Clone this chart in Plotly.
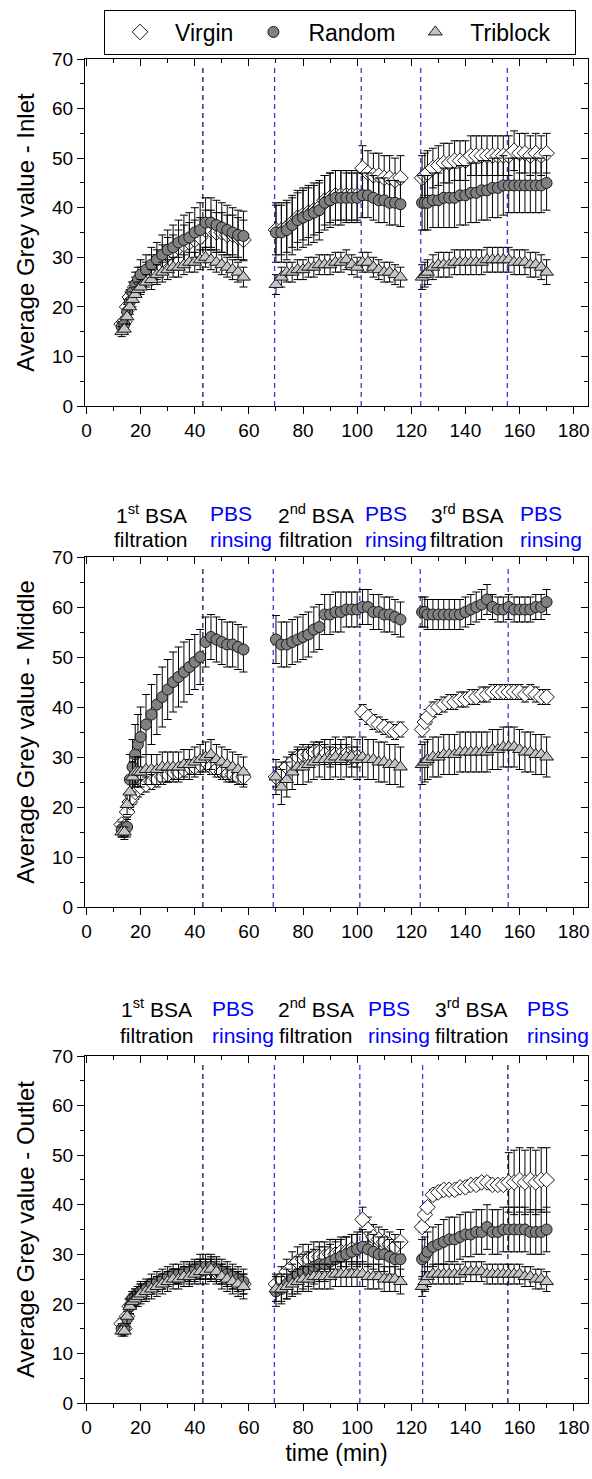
import plotly.graph_objects as go

# ---------------- data ----------------
time_seg1 = [13, 14, 15, 16, 17, 18, 19, 20, 22, 24, 26, 28, 30, 32, 34, 36, 38, 40, 42, 44, 46, 48, 50, 52, 54, 56, 58]
time_seg2 = [70, 72, 74, 76, 78, 80, 82, 84, 86, 88, 90, 92, 94, 96, 98, 100, 102, 104, 106, 108, 110, 112, 114, 116]
time_seg3 = [124, 125, 126, 128, 130, 132, 134, 136, 138, 140, 142, 144, 146, 148, 150, 152, 154, 156, 158, 160, 162, 164, 166, 168, 170]
time_min = time_seg1 + time_seg2 + time_seg3

series_names = ["Virgin", "Random", "Triblock"]

# Inlet
inlet_virgin = [16.5, 17, 20, 22, 23, 24, 25, 25.5, 26.5, 27.5, 28.5, 29.5, 30.5, 31, 32, 32.5, 33, 33.5, 34, 35.5, 35.5, 35, 35, 34.5, 34.5, 34, 33.5,
                35.5, 35.5, 36, 37, 38, 38.5, 39, 39.5, 40, 41.5, 42, 42.5, 42.5, 42.5, 42.5, 42.5, 48, 47, 46.5, 46.5, 46, 46, 45.5, 46,
                46, 46.5, 47, 48, 48.5, 49, 49, 49.5, 49.5, 49.5, 50.5, 50.5, 50.5, 50.5, 50.5, 50.5, 50.5, 50.5, 51.5, 51, 51, 50.5, 51, 50.5, 51]
inlet_virgin_err = [1, 1, 1.5, 1.5, 2, 2, 2, 2.5, 2.5, 3, 3, 3, 3.5, 3.5, 3.5, 4, 4, 4, 4, 4, 4, 4, 4, 4, 4, 4, 4,
                    5, 5, 5, 5, 5, 5, 5, 5, 5, 5, 5, 5, 5, 5, 5, 5, 4.5, 4.5, 4.5, 4.5, 4.5, 4.5, 4.5, 4.5,
                    4.5, 4.5, 4.5, 4, 4, 4, 4, 4, 4, 4, 4, 4, 4, 4, 4, 4, 4, 4, 4, 4, 4, 4, 4, 4, 4]
inlet_random = [16, 16.5, 19, 21, 23, 24.5, 25.5, 26.5, 27.5, 28.5, 29.5, 30.5, 31.5, 32, 33, 33.5, 34, 35, 35.5, 37, 37, 36.5, 36, 35.5, 35, 34.5, 34.3,
                35, 35, 35.5, 36.5, 37.5, 38, 38.5, 39, 39.5, 41, 41.5, 42, 42, 42, 42, 42, 42.5, 42.5, 42, 41.5, 41.5, 41, 41, 40.7,
                41, 41, 41, 41.5, 41.5, 42, 42, 42, 42.5, 42.5, 43, 43, 43.5, 43.5, 44, 44, 44.5, 44.5, 44.5, 44.5, 44.5, 44.5, 44.5, 44.5, 45]
inlet_random_err = [1, 1, 1.5, 2, 2, 2.5, 2.5, 3, 3, 3.5, 3.5, 4, 4, 4.5, 4.5, 5, 5, 5, 5.5, 5, 5, 5, 5, 5, 5, 5, 5,
                    6, 6, 6, 6, 6, 6, 6, 6, 6, 5.5, 5.5, 5.5, 5.5, 5, 5, 5, 4.5, 4.5, 4.5, 4.5, 4.5, 4.5, 4.5, 4.5,
                    5.5, 5.5, 5.5, 5.5, 5.5, 6, 6, 6, 6, 6, 6, 6, 6, 6, 6, 6, 6, 5.5, 5.5, 5.5, 5.5, 5.5, 5.5, 5.5, 5.5]
inlet_triblock = [15, 15.5, 18, 20, 21.5, 22.5, 23.5, 24, 25, 25.5, 26.5, 27, 27.5, 28, 28, 28.5, 29, 29, 29.5, 30, 29.5, 29, 28.5, 28, 27.5, 27, 26,
                  24.5, 26, 27, 27, 27.5, 27.5, 28, 28, 28.5, 28.5, 28.5, 29, 29, 29.5, 28.5, 28, 29, 29, 28, 27.5, 27, 27, 26.5, 26,
                  26, 26.5, 27, 28, 28.5, 28.5, 28.5, 29, 29, 29, 29, 29, 29, 29.5, 29.5, 29.5, 29.5, 29.5, 29, 29, 29, 28.5, 28.5, 28, 27]
inlet_triblock_err = [1, 1, 1.5, 1.5, 1.5, 1.5, 1.5, 1.5, 1.5, 2, 2, 2, 2, 2, 2, 2, 2, 2, 2, 2, 2, 2, 2, 2, 2, 2, 2,
                      2, 2, 2, 2, 2, 2, 2, 2, 2, 2, 2, 2, 2, 2, 2, 2, 2, 2, 2, 2, 2, 2, 2, 2,
                      2.5, 2.5, 2.5, 2.5, 2.5, 2.5, 2.5, 2.5, 2.5, 2.5, 2.5, 2.5, 2.5, 2.5, 2.5, 2.5, 2.5, 2.5, 2.5, 2.5, 2.5, 2.5, 2.5, 2.5, 2.5]

# Middle
middle_virgin = [16.5, 16, 19, 21, 22, 23, 23.5, 24, 24.5, 25, 25.5, 26, 26.5, 27, 27, 27.5, 28, 28, 28.5, 29, 28, 27.5, 27, 26.5, 26.5, 26, 26,
                 26, 27, 28, 29, 30, 30.5, 30.5, 31, 31, 30.5, 30, 30.5, 30.5, 30.5, 30, 30, 39, 38, 37, 36.5, 36, 35.5, 35, 35.5,
                 35.5, 37, 38, 39.5, 40, 40.5, 41, 41, 41.5, 41.5, 42, 42, 42.5, 42.5, 43, 43, 43, 43, 43, 43, 42.5, 43, 42.5, 42, 42]
middle_virgin_err = [1, 1, 1.5, 1.5, 1.5, 1.5, 1.5, 1.5, 1.5, 1.5, 1.5, 1.5, 1.5, 1.5, 1.5, 1.5, 1.5, 1.5, 1.5, 1.5, 1.5, 1.5, 1.5, 1.5, 1.5, 1.5, 1.5,
                     2, 2, 2, 2, 2, 2, 2, 2, 2, 2, 2, 2, 2, 2, 2, 2, 1.5, 1.5, 1.5, 1.5, 1.5, 1.5, 1.5, 1.5,
                     1.5, 1.5, 1.5, 1.5, 1.5, 1.5, 1.5, 1.5, 1.5, 1.5, 1.5, 1.5, 1.5, 1.5, 1.5, 1.5, 1.5, 1.5, 1.5, 1.5, 1.5, 1.5, 1.5, 1.5, 1.5]
middle_random = [15.5, 15, 16, 25.5, 28, 30.5, 32.5, 34, 36.5, 38.5, 40.5, 42, 43.5, 45, 46, 47, 48, 49, 50, 53, 54, 53.5, 53, 52.5, 52.5, 52, 51.5,
                 53.5, 52.5, 52.5, 53, 53.5, 54, 54.5, 55.5, 56, 58.5, 58.5, 59, 59, 59.5, 59.5, 59.5, 60, 60, 59, 59, 58.5, 58.5, 58, 57.5,
                 59, 59, 58.5, 58.5, 58.5, 58.5, 58.5, 58.5, 58.5, 59, 59.5, 60, 60.5, 61.5, 60, 59.5, 59.5, 60, 59.5, 59.5, 59.5, 59.5, 60, 60, 61]
middle_random_err = [1.5, 1.5, 2, 5, 5.5, 6, 6, 6, 6, 6, 6, 6, 6, 6, 6, 6, 5.5, 5.5, 5.5, 5, 4.5, 4.5, 4.5, 4.5, 4.5, 4.5, 4.5,
                     4.8, 4.5, 4.5, 4.5, 4.5, 4.5, 4.5, 4.5, 4.5, 4, 4, 4, 4, 3.5, 3.5, 3.5, 3.5, 3.5, 3.5, 3.5, 3.5, 3.5, 3.5, 3.5,
                     3, 3, 3, 3, 3, 3, 3, 3, 3, 3, 3, 3, 3, 3, 2.5, 2.5, 2.5, 2.5, 2.5, 2.5, 2.5, 2.5, 2.5, 2.5, 2.5]
middle_triblock = [15, 15, 20.5, 23, 26, 27, 27, 27, 27.5, 27.5, 27.5, 28, 28, 28, 28, 28.5, 28.5, 29, 29.5, 30, 30.5, 29.5, 29, 28.5, 28, 27.5, 27,
                   26, 24, 25.5, 27, 28, 28, 28.5, 29, 29.5, 29.5, 29.5, 30, 29.5, 30, 30, 29.5, 30, 29.5, 29.5, 29, 29, 28.5, 28.5, 28,
                   28.5, 29, 29.5, 30, 30, 30.5, 30.5, 30.5, 31, 31, 31, 31, 31, 31, 31.5, 31.5, 32, 32, 32, 31.5, 31, 31, 30.5, 30.5, 30]
middle_triblock_err = [1, 1, 2, 2.5, 3, 3, 3, 3, 3, 3, 3, 3, 3, 3, 3, 3, 3, 3, 3, 3, 3, 3, 3, 3, 3, 3, 3,
                       3.5, 3.5, 3.5, 3.5, 3.5, 3.5, 3.5, 3.5, 3.5, 4, 4, 4, 4, 4, 4, 4, 4, 4, 4, 4, 4, 4, 4, 4,
                       4, 4, 4, 4, 4, 4, 4, 4, 4, 4, 4, 4, 4, 4, 4, 4, 4, 4, 4, 4, 4, 4, 4, 4, 4]

# Outlet
outlet_virgin = [16, 15, 17.5, 19.5, 21, 21.5, 22, 22.5, 23, 23.5, 24, 24.5, 25, 25.5, 25.5, 26, 26, 26.5, 27, 27, 27, 26.5, 26, 25.5, 25, 24.5, 24,
                 24, 25, 26.5, 27.5, 28.5, 29, 29, 29.5, 29.5, 29.5, 30, 30, 30.5, 30.5, 31, 31, 37, 35, 33.5, 33, 32.5, 32, 31.5, 32.5,
                 35.5, 38, 39.5, 42, 42.5, 43, 43, 43, 43.5, 43.5, 44, 44, 44.5, 44.5, 44, 44, 44, 44.5, 44.5, 45, 44.5, 45, 44.5, 45, 45]
outlet_virgin_err = [1, 1, 1.5, 1.5, 1.5, 1.5, 1.5, 1.5, 1.5, 1.5, 1.5, 1.5, 1.5, 1.5, 1.5, 1.5, 2, 2, 2, 2, 2, 2, 2, 2, 2, 2, 2,
                     2, 2.5, 2.5, 3, 3, 3, 3, 3, 3, 3, 3, 3, 3, 3, 3, 3, 2.5, 2.5, 2.5, 2.5, 2.5, 2.5, 2.5, 2.5,
                     1, 1, 1, 1, 1, 1, 1, 1, 1, 1, 1, 1, 1, 1, 1, 1, 1, 6, 6.5, 6.5, 6.5, 6.5, 6.5, 6.5, 6.5]
outlet_random = [15, 15, 17, 19.5, 21, 21.5, 22, 22.5, 23, 24, 24.5, 25, 25.5, 26, 26, 26.5, 26.5, 27, 27.5, 27.5, 27.5, 27, 26.5, 26, 25.5, 25, 24.5,
                 22.5, 23, 24, 25, 26, 26.5, 27, 27.5, 28, 28, 28.5, 29, 29.5, 30, 30.5, 31, 31.5, 31, 30.5, 30, 30, 29.5, 29, 29,
                 29, 29.5, 30.5, 31.5, 32, 32.5, 33, 33, 33.5, 34, 34, 34.5, 34.5, 35.5, 34.5, 34.5, 35, 35, 35, 35, 35, 34.5, 34.5, 34.5, 35]
outlet_random_err = [1, 1, 1.5, 1.5, 1.5, 1.5, 1.5, 2, 2, 2, 2, 2, 2, 2, 2, 2, 2, 2, 2.5, 2.5, 2.5, 2.5, 2.5, 2.5, 2.5, 2.5, 2.5,
                     3, 3, 3, 3, 3.5, 3.5, 3.5, 3.5, 3.5, 3.5, 3.5, 3.5, 3.5, 3.5, 3.5, 3.5, 3.5, 3.5, 3.5, 3.5, 3.5, 3.5, 3.5, 3.5,
                     4, 4, 4, 4, 4, 4.5, 4.5, 4.5, 4.5, 4.5, 4.5, 4.5, 4.5, 4.5, 4.5, 4.5, 4.5, 4.5, 4.5, 4.5, 4.5, 4.5, 4.5, 4.5, 4.5]
outlet_triblock = [14.5, 14.5, 17.5, 19.5, 20.5, 21, 21.5, 22, 22.5, 23, 23.5, 24, 24.5, 25, 25, 25.5, 25.5, 26, 26.5, 26.5, 27, 26.5, 25.5, 25, 24.5, 24, 23.5,
                   23, 23, 23.5, 24, 24.5, 25, 25, 25.5, 25.5, 25.5, 25.5, 26, 26, 26, 26, 26, 26, 25.5, 25.5, 25.5, 25, 25, 25, 24.5,
                   23.5, 24.5, 25.5, 26, 26, 26, 26, 26, 26, 26.5, 26.5, 26.5, 26.5, 26, 26, 26, 26, 26, 26, 26, 25.5, 25.5, 25, 25, 24.5]
outlet_triblock_err = [1, 1, 1.5, 1.5, 1.5, 1.5, 2, 2, 2, 2, 2, 2, 2, 2, 2, 2, 2, 2, 2.5, 2.5, 2.5, 2.5, 2.5, 2.5, 2.5, 2.5, 2.5,
                       2.5, 2.5, 2.5, 2.5, 2.5, 2.5, 2.5, 2.5, 2.5, 2.5, 2.5, 2.5, 2.5, 2.5, 2.5, 2.5, 2.5, 2.5, 2.5, 2.5, 2.5, 2.5, 2.5, 2.5,
                       2, 2, 2, 2, 2, 2, 2, 2, 2, 2, 2, 2, 2, 2, 2, 2, 2, 2, 2, 2, 2, 2, 2, 2, 2]

panel_titles = ["Average Grey value - Inlet", "Average Grey value - Middle", "Average Grey value - Outlet"]
x_title = "time (min)"

# event (dashed line) times per panel and their kind
inlet_events = [43, 69.5, 101.5, 123.5, 155.5]
middle_events = [43, 69, 101, 123.3, 155.8]
outlet_events = [43, 69.4, 101, 124.2, 155.7]
inlet_event_kind = ["dark", "blue", "blue", "blue", "blue"]
middle_event_kind = ["dark", "blue", "blue", "blue", "blue"]
outlet_event_kind = ["dark", "blue", "blue", "blue", "dark"]

phase_line1 = ["1<sup>st</sup> BSA", "PBS", "2<sup>nd</sup> BSA", "PBS", "3<sup>rd</sup> BSA", "PBS"]
phase_line2 = ["filtration", "rinsing", "filtration", "rinsing", "filtration", "rinsing"]
phase_is_rinse = [False, True, False, True, False, True]

# ---------------- styling / layout ----------------
FONT = "Liberation Sans, Arial, sans-serif"
W, H = 592, 1479
ML, MR = 85, 4
XR = [-0.55, 185.3]
panel_px = [(59, 406), (557, 907), (1056, 1403)]

styles = {
    "Virgin": dict(symbol="diamond", color="white", size=12),
    "Random": dict(symbol="circle", color="#808080", size=11),
    "Triblock": dict(symbol="triangle-up", color="#c4c4c4", size=12),
}
legend_names = {"Virgin": "Virgin", "Random": "Random", "Triblock": "Triblock\u00a0\u00a0\u00a0"}
event_colors = {"dark": "#000050", "blue": "#2b2bdd"}

panels = [
    dict(V=(inlet_virgin, inlet_virgin_err), R=(inlet_random, inlet_random_err), T=(inlet_triblock, inlet_triblock_err),
         ev=inlet_events, evk=inlet_event_kind),
    dict(V=(middle_virgin, middle_virgin_err), R=(middle_random, middle_random_err), T=(middle_triblock, middle_triblock_err),
         ev=middle_events, evk=middle_event_kind),
    dict(V=(outlet_virgin, outlet_virgin_err), R=(outlet_random, outlet_random_err), T=(outlet_triblock, outlet_triblock_err),
         ev=outlet_events, evk=outlet_event_kind),
]

fig = go.Figure()
shapes = []
annotations = []
layout = {}

for i, p in enumerate(panels):
    n = i + 1
    xa = "x" if n == 1 else f"x{n}"
    ya = "y" if n == 1 else f"y{n}"
    for key, name in zip(["V", "R", "T"], series_names):
        vals, errs = p[key]
        st = styles[name]
        fig.add_trace(go.Scatter(
            x=time_min, y=vals, mode="markers", name=legend_names[name],
            legendgroup=name, showlegend=(i == 0),
            xaxis=xa, yaxis=ya,
            marker=dict(symbol=st["symbol"], size=st["size"], color=st["color"],
                        line=dict(color="#1a1a1a", width=1)),
            error_y=dict(type="data", array=errs, visible=True, color="black", thickness=1, width=4),
            cliponaxis=False,
        ))
    # empty helper trace so the mirrored (inward-tick) top/right axes are drawn
    fig.add_trace(go.Scatter(x=[None], y=[None], xaxis=f"x{n+3}", yaxis=f"y{n+3}",
                             showlegend=False, hoverinfo="skip", mode="markers"))

    top, bot = panel_px[i]
    dom = [1 - bot / H, 1 - top / H]
    axis_common = dict(showline=True, linecolor="black", linewidth=1, showgrid=False, zeroline=False,
                       tickcolor="black", tickwidth=1, tickfont=dict(size=19, color="black", family=FONT))
    xdict = dict(
        axis_common, domain=[0, 1], anchor=ya, range=XR, tick0=0, dtick=20,
        ticks="outside", ticklen=7,
        minor=dict(dtick=10, tick0=0, ticks="outside", ticklen=4, tickcolor="black", tickwidth=1),
    )
    if n == 3:
        xdict["title"] = dict(text=x_title, font=dict(size=23, color="black", family=FONT), standoff=8)
    layout["xaxis" if n == 1 else f"xaxis{n}"] = xdict
    layout["yaxis" if n == 1 else f"yaxis{n}"] = dict(
        axis_common, domain=dom, anchor=xa, range=[0, 70], tick0=0, dtick=10,
        ticks="outside", ticklen=7,
        minor=dict(dtick=5, tick0=0, ticks="outside", ticklen=4, tickcolor="black", tickwidth=1),
        title=dict(text=panel_titles[i], font=dict(size=24, color="black", family=FONT), standoff=10),
    )
    layout[f"xaxis{n+3}"] = dict(
        axis_common, overlaying=xa, anchor=ya, side="top", range=XR, tick0=0, dtick=20,
        ticks="inside", ticklen=7, showticklabels=False,
        minor=dict(dtick=10, tick0=0, ticks="inside", ticklen=4, tickcolor="black", tickwidth=1),
    )
    layout[f"yaxis{n+3}"] = dict(
        axis_common, overlaying=ya, anchor=xa, side="right", range=[0, 70], tick0=0, dtick=10,
        ticks="inside", ticklen=7, showticklabels=False,
        minor=dict(dtick=5, tick0=0, ticks="inside", ticklen=4, tickcolor="black", tickwidth=1),
    )

    for t, k in zip(p["ev"], p["evk"]):
        shapes.append(dict(type="line", xref=xa, yref=ya, x0=t, x1=t, y0=0, y1=68.3,
                           line=dict(color=event_colors[k], width=1.2, dash="5px,4px"), layer="below"))

# phase labels above the middle and bottom panels (two lines each)
label_x = {2: [24, 44.8, 84.8, 102.2, 140.7, 159.5], 3: [26, 45.5, 84.8, 103.3, 142.3, 162.2]}
label_dy = {2: (43, 17), 3: (48, 21)}   # px above the panel top for line 1 / line 2
panel_h = {2: 350, 3: 347}
for n in (2, 3):
    d1, d2 = label_dy[n]
    for t1, t2, rinse, x in zip(phase_line1, phase_line2, phase_is_rinse, label_x[n]):
        for txt, d in ((t1, d1), (t2, d2)):
            annotations.append(dict(
                text=txt, x=x, y=1 + d / panel_h[n], xref=f"x{n}", yref=f"y{n} domain",
                xanchor="left" if rinse else "center", yanchor="middle", showarrow=False,
                font=dict(size=21, color="#0000ff" if rinse else "black", family=FONT),
            ))

fig.update_layout(
    width=W, height=H, margin=dict(l=ML, r=MR, t=0, b=0, autoexpand=False),
    paper_bgcolor="white", plot_bgcolor="white",
    font=dict(family=FONT, color="black"),
    showlegend=True,
    legend=dict(orientation="h", x=(104 - ML) / (W - ML - MR), y=1 - 9.5 / H, xanchor="left", yanchor="top",
                bordercolor="black", borderwidth=1, bgcolor="white", itemwidth=60,
                font=dict(size=23, color="black", family=FONT), traceorder="normal"),
    shapes=shapes, annotations=annotations,
    **layout,
)

fig.write_html("out.html")
